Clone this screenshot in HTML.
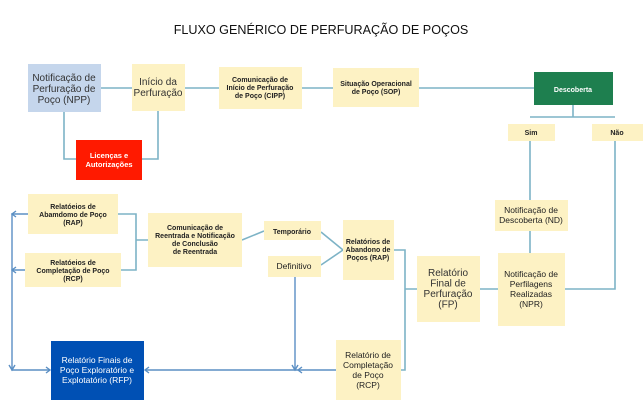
<!DOCTYPE html>
<html><head><meta charset="utf-8"><style>
body{margin:0;background:#fff;}
svg{display:block;font-family:"Liberation Sans",Verdana,sans-serif;}
.y{fill:#fdf2c4;}
.l{stroke:#7db3c6;stroke-width:1.6;fill:none;}
.b{stroke:#5b8fc4;stroke-width:1.4;fill:none;}
.s{font-size:7px;font-weight:bold;fill:#222;text-anchor:middle;}
.m{font-size:8.5px;fill:#222;text-anchor:middle;}
.g{font-size:10px;fill:#333;text-anchor:middle;}
</style></head><body>
<svg width="643" height="404" viewBox="0 0 643 404">
<text x="321" y="34" font-size="12.6" text-anchor="middle" fill="#111">FLUXO GENÉRICO DE PERFURAÇÃO DE POÇOS</text>
<path class="l" d="M101 88H132M185 88H219M302 88H333M419 88H534"/>
<path class="l" d="M64 112V159H76M158 111V159H142"/>
<path class="l" d="M573 105V117M530 117H615M530 141V200M530 231V253M615 141V289H565M480 289H498"/>
<path class="l" d="M394 250H405V370H401M405 289H417"/>
<path class="l" d="M242 240L264 231M321 232L343 250M321 265L343 250"/>
<path class="l" d="M118 214H136V270H121M136 240H148"/>
<path class="b" d="M28 214H12V370H50M25 270H12M295 277V370M336 370H145"/>
<path class="b" d="M16 211L12 214L16 217M16 267L12 270L16 273M9 365L12 370L15 365M46 367L50 370L46 373M292 365L295 370L298 365M149 367L145 370L149 373M302 367L298 370L302 373"/>
<rect x="28" y="64" width="73" height="48" fill="#c5d6ec"/>
<text class="g" y="81"><tspan x="64">Notificação de</tspan><tspan x="64" dy="11">Perfuração de</tspan><tspan x="64" dy="11">Poço (NPP)</tspan></text>
<rect class="y" x="132" y="64" width="53" height="47"/>
<text class="g" y="85"><tspan x="158">Início da</tspan><tspan x="158" dy="11">Perfuração</tspan></text>
<rect class="y" x="219" y="67" width="83" height="42"/>
<text class="s" y="82"><tspan x="260">Comunicação de</tspan><tspan x="260" dy="8">Início de Perfuração</tspan><tspan x="260" dy="8">de Poço (CIPP)</tspan></text>
<rect class="y" x="333" y="68" width="86" height="39"/>
<text class="s" y="86"><tspan x="376">Situação Operacional</tspan><tspan x="376" dy="8">de Poço (SOP)</tspan></text>
<rect x="534" y="72" width="79" height="33" fill="#1e7f4f"/>
<text class="s" x="573" y="92" style="fill:#fff">Descoberta</text>
<rect x="76" y="140" width="66" height="40" fill="#ff1a00"/>
<text class="s" y="158" style="fill:#fff;font-size:7.5px"><tspan x="109">Licenças e</tspan><tspan x="109" dy="9">Autorizações</tspan></text>
<rect class="y" x="508" y="124" width="47" height="17"/>
<text class="s" x="531" y="135">Sim</text>
<rect class="y" x="592" y="124" width="51" height="17"/>
<text class="s" x="617" y="135">Não</text>
<rect class="y" x="495" y="200" width="73" height="31"/>
<text class="m" y="213"><tspan x="531">Notificação de</tspan><tspan x="531" dy="10">Descoberta (ND)</tspan></text>
<rect class="y" x="498" y="253" width="67" height="73"/>
<text class="m" y="277"><tspan x="531">Notificação de</tspan><tspan x="531" dy="10">Perfilagens</tspan><tspan x="531" dy="10">Realizadas</tspan><tspan x="531" dy="10">(NPR)</tspan></text>
<rect class="y" x="417" y="256" width="63" height="66"/>
<text class="g" y="276"><tspan x="448">Relatório</tspan><tspan x="448" dy="10.5">Final de</tspan><tspan x="448" dy="10.5">Perfuração</tspan><tspan x="448" dy="10.5">(FP)</tspan></text>
<rect class="y" x="343" y="220" width="51" height="60"/>
<text class="s" y="244"><tspan x="368">Relatórios de</tspan><tspan x="368" dy="8">Abandono de</tspan><tspan x="368" dy="8">Poços (RAP)</tspan></text>
<rect class="y" x="264" y="221" width="57" height="19"/>
<text class="s" x="292" y="234">Temporário</text>
<rect class="y" x="268" y="256" width="53" height="21"/>
<text class="m" x="294" y="269">Definitivo</text>
<rect class="y" x="148" y="213" width="94" height="54"/>
<text class="s" y="230"><tspan x="195">Comunicação de</tspan><tspan x="195" dy="8">Reentrada e Notificação</tspan><tspan x="195" dy="8">de Conclusão</tspan><tspan x="195" dy="8">de Reentrada</tspan></text>
<rect class="y" x="28" y="194" width="90" height="40"/>
<text class="s" y="209"><tspan x="73">Relatóeios de</tspan><tspan x="73" dy="8">Abamdomo de Poço</tspan><tspan x="73" dy="8">(RAP)</tspan></text>
<rect class="y" x="25" y="253" width="96" height="34"/>
<text class="s" y="265"><tspan x="73">Relatóeios de</tspan><tspan x="73" dy="8">Completação de Poço</tspan><tspan x="73" dy="8">(RCP)</tspan></text>
<rect x="51" y="341" width="93" height="59" fill="#0050b4"/>
<text class="m" y="363" style="fill:#fff"><tspan x="97">Relatório Finais de</tspan><tspan x="97" dy="10">Poço Exploratório e</tspan><tspan x="97" dy="10">Explotatório (RFP)</tspan></text>
<rect class="y" x="336" y="340" width="65" height="60"/>
<text class="m" y="358"><tspan x="368">Relatório de</tspan><tspan x="368" dy="10">Completação</tspan><tspan x="368" dy="10">de Poço</tspan><tspan x="368" dy="10">(RCP)</tspan></text>
</svg>
</body></html>
